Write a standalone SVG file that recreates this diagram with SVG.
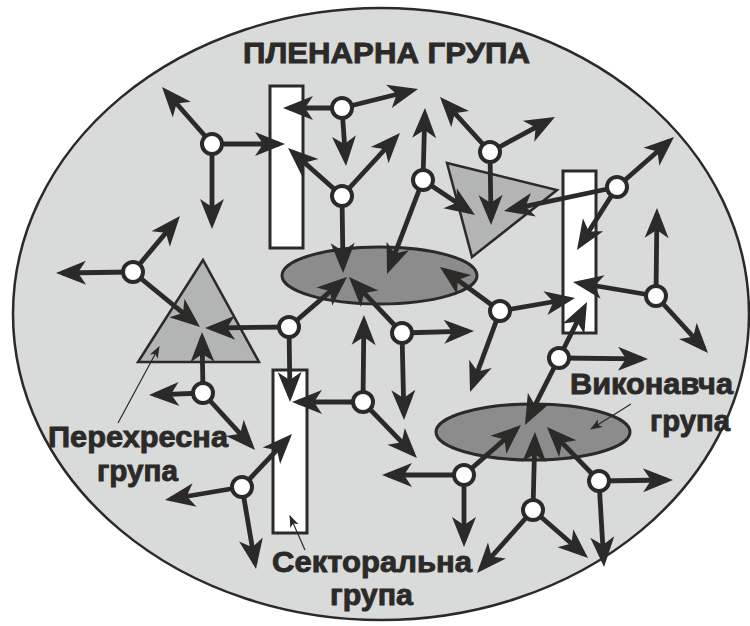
<svg xmlns="http://www.w3.org/2000/svg" width="750" height="626" viewBox="0 0 750 626">
<style>
.bg{fill:#d9dada;stroke:#2b2a28;stroke-width:2.5}
.rect{fill:#ffffff;stroke:#2b2a28;stroke-width:3}
.tri{fill:#b3b4b4;stroke:#2b2a28;stroke-width:2.5}
.ell{fill:#8c8c8c;stroke:#2b2a28;stroke-width:3}
.node circle{fill:#ffffff;stroke:#2b2a28;stroke-width:4}
#connectors line{stroke:#2b2a28;stroke-width:4.8;fill:none;marker-end:url(#ah)}
#pointers line{stroke:#2b2a28;stroke-width:1.2;marker-end:url(#ph)}
text{font-family:"Liberation Sans",Arial,sans-serif;font-weight:bold;font-size:30px;fill:#2b2a28;stroke:#2b2a28;stroke-width:0.9}
</style>
<defs>
<marker id="ah" markerUnits="userSpaceOnUse" viewBox="-26 -14 34 28" markerWidth="34" markerHeight="28" refX="0" refY="0" orient="auto">
<path d="M6,0 L-24,-12 L-16,0 L-24,12 Z" fill="#2b2a28"/>
</marker>
<marker id="ph" markerUnits="userSpaceOnUse" viewBox="-13 -6 15 12" markerWidth="15" markerHeight="12" refX="0" refY="0" orient="auto">
<path d="M1,0 L-11,-4.5 L-8,0 L-11,4.5 Z" fill="#2b2a28"/>
</marker>
</defs>
<g id="plenary-group"><ellipse class="bg" cx="381" cy="314" rx="368" ry="306"/></g>
<g id="sector-rect-a"><rect class="rect" x="270" y="86" width="33" height="162"/></g>
<g id="sector-rect-b"><rect class="rect" x="563" y="171" width="33" height="162"/></g>
<g id="sector-rect-c"><rect class="rect" x="273" y="370" width="34" height="163"/></g>
<g id="cross-tri-left"><polygon class="tri" points="203,260 138,362 259,362"/></g>
<g id="cross-tri-right"><polygon class="tri" points="447,163 557,190 472,257"/></g>
<g id="exec-ellipse-top"><ellipse class="ell" cx="379.5" cy="275.5" rx="97.5" ry="28.5"/></g>
<g id="exec-ellipse-bottom"><ellipse class="ell" cx="533" cy="432" rx="97" ry="28"/></g>
<g id="connectors">
<line x1="212" y1="144" x2="166" y2="91.5"/>
<line x1="212" y1="144" x2="279" y2="144"/>
<line x1="212" y1="144" x2="212" y2="223"/>
<line x1="342" y1="108" x2="289" y2="108"/>
<line x1="342" y1="108" x2="412.2" y2="90.5"/>
<line x1="342" y1="108" x2="345.6" y2="160"/>
<line x1="342" y1="196" x2="292.5" y2="152"/>
<line x1="342" y1="196" x2="395.9" y2="137.4"/>
<line x1="342" y1="196" x2="343" y2="267"/>
<line x1="423" y1="180" x2="424.8" y2="114"/>
<line x1="423" y1="180" x2="389.2" y2="268.4"/>
<line x1="423" y1="180" x2="470" y2="211.6"/>
<line x1="490" y1="152" x2="444" y2="101.4"/>
<line x1="490" y1="152" x2="549.7" y2="119.8"/>
<line x1="490" y1="152" x2="491" y2="219"/>
<line x1="617" y1="187" x2="669.5" y2="141"/>
<line x1="617" y1="187" x2="509.9" y2="209.7"/>
<line x1="617" y1="187" x2="580.2" y2="245"/>
<line x1="133" y1="272" x2="62" y2="273"/>
<line x1="133" y1="272" x2="176.1" y2="220.6"/>
<line x1="133" y1="272" x2="195.4" y2="323.2"/>
<line x1="289" y1="327" x2="211" y2="328"/>
<line x1="289" y1="327" x2="342.5" y2="280.9"/>
<line x1="289" y1="327" x2="290" y2="396"/>
<line x1="402" y1="333" x2="353.1" y2="281.4"/>
<line x1="402" y1="333" x2="468" y2="331.2"/>
<line x1="402" y1="333" x2="403.9" y2="414"/>
<line x1="500" y1="311" x2="444.8" y2="270.5"/>
<line x1="500" y1="311" x2="569.1" y2="299"/>
<line x1="500" y1="311" x2="472.1" y2="386.4"/>
<line x1="656" y1="296" x2="656.9" y2="214"/>
<line x1="656" y1="296" x2="578.9" y2="283"/>
<line x1="656" y1="296" x2="704" y2="348.6"/>
<line x1="203" y1="393" x2="202.1" y2="338"/>
<line x1="203" y1="393" x2="155" y2="394.8"/>
<line x1="203" y1="393" x2="251" y2="445.6"/>
<line x1="363" y1="402" x2="298" y2="402"/>
<line x1="363" y1="402" x2="363.9" y2="321"/>
<line x1="363" y1="402" x2="412.8" y2="453.7"/>
<line x1="559" y1="358" x2="642" y2="358.9"/>
<line x1="559" y1="358" x2="584.3" y2="307.4"/>
<line x1="559" y1="358" x2="527.7" y2="419.6"/>
<line x1="242" y1="487" x2="287.9" y2="438.4"/>
<line x1="242" y1="487" x2="170.9" y2="499"/>
<line x1="242" y1="487" x2="255" y2="563.1"/>
<line x1="464" y1="475" x2="516.5" y2="429"/>
<line x1="464" y1="475" x2="388" y2="475"/>
<line x1="464" y1="475" x2="464" y2="541"/>
<line x1="533" y1="510" x2="534.8" y2="438"/>
<line x1="533" y1="510" x2="481" y2="568.5"/>
<line x1="533" y1="510" x2="583.5" y2="554"/>
<line x1="599" y1="481" x2="551.1" y2="431.3"/>
<line x1="599" y1="481" x2="667" y2="480"/>
<line x1="599" y1="481" x2="603.7" y2="561"/>
</g>
<g id="pointers">
<line x1="118" y1="423" x2="159" y2="347"/>
<line x1="305" y1="550" x2="290" y2="516"/>
<line x1="631" y1="404" x2="591" y2="429"/>
</g>
<g id="n1" class="node"><circle cx="212" cy="144" r="10"/></g>
<g id="n2" class="node"><circle cx="342" cy="108" r="10"/></g>
<g id="n3" class="node"><circle cx="342" cy="196" r="10"/></g>
<g id="n4" class="node"><circle cx="423" cy="180" r="10"/></g>
<g id="n5" class="node"><circle cx="490" cy="152" r="10"/></g>
<g id="n6" class="node"><circle cx="617" cy="187" r="10"/></g>
<g id="n7" class="node"><circle cx="133" cy="272" r="10"/></g>
<g id="n8" class="node"><circle cx="289" cy="327" r="10"/></g>
<g id="n9" class="node"><circle cx="402" cy="333" r="10"/></g>
<g id="n10" class="node"><circle cx="500" cy="311" r="10"/></g>
<g id="n11" class="node"><circle cx="656" cy="296" r="10"/></g>
<g id="n12" class="node"><circle cx="203" cy="393" r="10"/></g>
<g id="n13" class="node"><circle cx="363" cy="402" r="10"/></g>
<g id="n14" class="node"><circle cx="559" cy="358" r="10"/></g>
<g id="n15" class="node"><circle cx="242" cy="487" r="10"/></g>
<g id="n16" class="node"><circle cx="464" cy="475" r="10"/></g>
<g id="n17" class="node"><circle cx="533" cy="510" r="10"/></g>
<g id="n18" class="node"><circle cx="599" cy="481" r="10"/></g>
<g id="labels">
<text x="243" y="63" textLength="287" lengthAdjust="spacingAndGlyphs">ПЛЕНАРНА ГРУПА</text>
<text x="48" y="447" textLength="180" lengthAdjust="spacingAndGlyphs">Перехресна</text>
<text x="97" y="481" textLength="81" lengthAdjust="spacingAndGlyphs">група</text>
<text x="272" y="572" textLength="200" lengthAdjust="spacingAndGlyphs">Секторальна</text>
<text x="330" y="605" textLength="83" lengthAdjust="spacingAndGlyphs">група</text>
<text x="570" y="394" textLength="163" lengthAdjust="spacingAndGlyphs">Виконавча</text>
<text x="650" y="431" textLength="80" lengthAdjust="spacingAndGlyphs">група</text>
</g>
</svg>
